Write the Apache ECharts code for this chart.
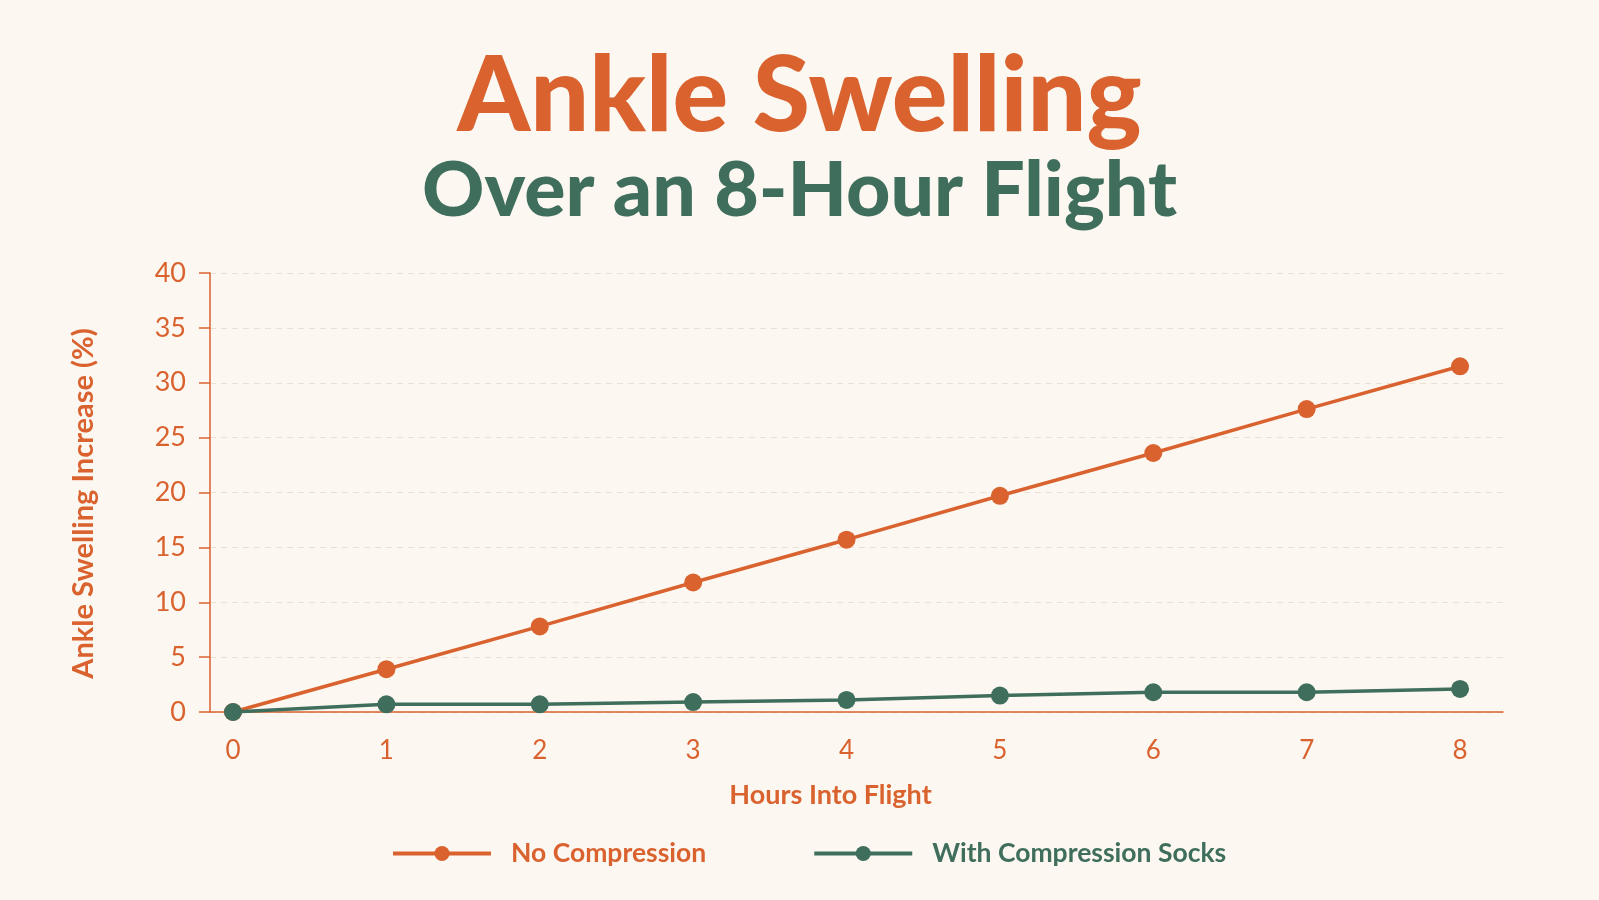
<!DOCTYPE html>
<html>
<head>
<meta charset="utf-8">
<script src="https://cdn.jsdelivr.net/npm/echarts@6/dist/echarts.min.js"></script>
<style>
  html, body { margin: 0; padding: 0; background: #fcf8f1; }
  #chart { width: 1599px; height: 900px; }
</style>
</head>
<body>
<div id="chart"></div>
<script>
// hours into the flight
var hours = [0, 1, 2, 3, 4, 5, 6, 7, 8];
// swelling increase in %
var noCompression = [0, 3.9, 7.8, 11.8, 15.7, 19.7, 23.6, 27.6, 31.5];
var withSocks = [0, 0.7, 0.7, 0.9, 1.1, 1.5, 1.8, 1.8, 2.1];
var yTicks = [0, 5, 10, 15, 20, 25, 30, 35, 40];

var orange = '#d9622f';
var green = '#3f6e5c';
var font = 'Lato';

function pairs(vals) {
  var out = [];
  for (var i = 0; i < hours.length; i++) {
    out.push([hours[i], vals[i]]);
  }
  return out;
}

var chart = echarts.init(document.getElementById('chart'));

var option = {
  backgroundColor: '#fcf8f1',
  title: [{
    text: 'Ankle Swelling',
    left: 'center',
    top: 40,
    textStyle: { color: orange, fontFamily: font, fontWeight: 900, fontSize: 104 }
  }, {
    text: 'Over an 8-Hour Flight',
    left: 'center',
    top: 148,
    textStyle: { color: green, fontFamily: font, fontWeight: 900, fontSize: 77 }
  }],
  grid: { left: 210, right: 96, top: 273, bottom: 188 },
  legend: {
    bottom: 28,
    left: 386,
    itemWidth: 98,
    itemHeight: 19,
    itemGap: 106,
    lineStyle: { width: 4 },
    textStyle: { fontFamily: font, fontWeight: 'bold', fontSize: 26.5, padding: [0, 0, 0, 15] },
    data: [
      { name: 'No Compression', textStyle: { color: orange } },
      { name: 'With Compression Socks', textStyle: { color: green } }
    ]
  },
  xAxis: {
    type: 'value',
    min: -0.15,
    max: 8.28,
    name: 'Hours Into Flight',
    nameLocation: 'middle',
    nameGap: 70,
    nameTextStyle: { color: orange, fontFamily: font, fontWeight: 'bold', fontSize: 27, padding: [0, 52, 0, 0] },
    axisLine: { show: true, lineStyle: { color: orange, width: 1.5 } },
    axisTick: { show: false },
    splitLine: { show: false },
    axisLabel: {
      customValues: hours,
      color: orange,
      fontFamily: font,
      fontSize: 26,
      margin: 26
    }
  },
  yAxis: {
    type: 'value',
    min: 0,
    max: 40,
    interval: 5,
    name: 'Ankle Swelling Increase (%)',
    nameLocation: 'middle',
    nameGap: 112,
    nameTextStyle: { color: orange, fontFamily: font, fontWeight: 'bold', fontSize: 29, padding: [0, 22, 0, 0] },
    axisLine: { show: true, onZero: false, lineStyle: { color: orange, width: 1.5 } },
    axisTick: { show: true, length: 11, lineStyle: { color: orange, width: 1.5 } },
    axisLabel: {
      customValues: yTicks,
      color: orange,
      fontFamily: font,
      fontSize: 27,
      margin: 24
    },
    splitLine: { show: true, lineStyle: { color: '#ecdfd3', type: [6, 5], width: 1 } }
  },
  series: [{
    name: 'No Compression',
    type: 'line',
    data: pairs(noCompression),
    symbol: 'circle',
    symbolSize: 18,
    lineStyle: { color: orange, width: 3.5 },
    itemStyle: { color: orange },
    z: 3
  }, {
    name: 'With Compression Socks',
    type: 'line',
    data: pairs(withSocks),
    symbol: 'circle',
    symbolSize: 18,
    lineStyle: { color: green, width: 3.5 },
    itemStyle: { color: green },
    z: 4
  }]
};

chart.setOption(option);
</script>
</body>
</html>
